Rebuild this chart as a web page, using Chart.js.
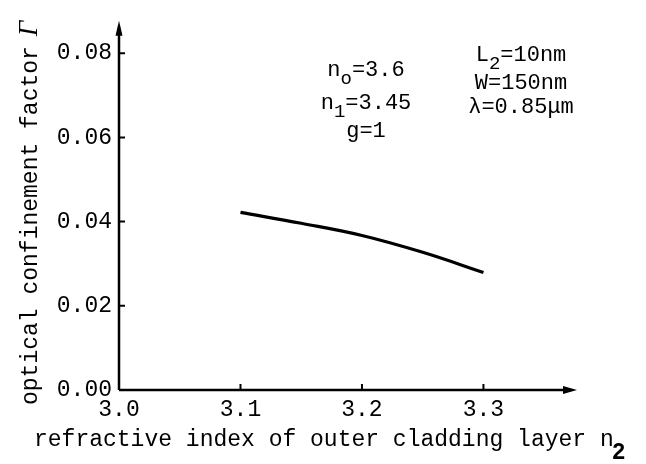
<!DOCTYPE html>
<html>
<head>
<meta charset="utf-8">
<script src="https://cdn.jsdelivr.net/npm/chart.js@4.4.1/dist/chart.umd.min.js"></script>
<style>
  html, body { margin: 0; padding: 0; background: #fff; }
  #wrap { width: 646px; height: 464px; }
</style>
</head>
<body>
<div id="wrap"><canvas id="chart" width="646" height="464"></canvas></div>
<script>
// refractive index of outer cladding layer n2 vs optical confinement factor
const n2Values = [3.10, 3.15, 3.20, 3.25, 3.30];
const gammaValues = [0.0422, 0.0396, 0.0367, 0.0327, 0.0279];

const xTicks = [3.0, 3.1, 3.2, 3.3];
const yTicks = [0.00, 0.02, 0.04, 0.06, 0.08];

const xTitle = 'refractive index of outer cladding layer n';
const xTitleSub = '2';
const yTitle = 'optical confinement factor ';
const yTitleSymbol = 'Γ';

// parameter notes, each line is a list of [text, isSubscript]
const leftNotes = [
  [['n', false], ['o', true], ['=3.6', false]],
  [['n', false], ['1', true], ['=3.45', false]],
  [['g=1', false]]
];
const rightNotes = [
  [['L', false], ['2', true], ['=10nm', false]],
  [['W=150nm', false]],
  [['λ', false], ['=0.85μm', false]]
];

const MONO = '"Liberation Mono", "DejaVu Sans Mono", monospace';
const INK = '#000';

function drawArrow(ctx, x, y, dir) {
  ctx.beginPath();
  if (dir === 'right') {
    ctx.moveTo(x, y);
    ctx.lineTo(x - 14, y - 4);
    ctx.lineTo(x - 14, y + 4);
  } else {
    ctx.moveTo(x, y);
    ctx.lineTo(x - 3.5, y + 15);
    ctx.lineTo(x + 3.5, y + 15);
  }
  ctx.closePath();
  ctx.fill();
}

function drawRich(ctx, parts, x, y, size) {
  // centred line of text with subscripts
  let total = 0;
  parts.forEach(([t, sub]) => {
    ctx.font = (sub ? size - 3 : size) + 'px ' + MONO;
    total += ctx.measureText(t).width;
  });
  let cx = x - total / 2;
  parts.forEach(([t, sub]) => {
    ctx.font = (sub ? size - 3 : size) + 'px ' + MONO;
    ctx.fillText(t, cx, sub ? y + 8 : y);
    cx += ctx.measureText(t).width;
  });
}

const axesPlugin = {
  id: 'axesPlugin',
  afterDraw(chart) {
    const ctx = chart.ctx;
    const xs = chart.scales.x;
    const ys = chart.scales.y;
    const ox = xs.getPixelForValue(xs.min);
    const oy = ys.getPixelForValue(ys.min);
    const area = chart.chartArea;

    ctx.save();
    ctx.strokeStyle = INK;
    ctx.fillStyle = INK;
    ctx.lineWidth = 2.5;
    ctx.lineCap = 'butt';

    // axes
    ctx.beginPath();
    ctx.moveTo(ox, oy);
    ctx.lineTo(area.right - 6, oy);
    ctx.moveTo(ox, oy);
    ctx.lineTo(ox, area.top + 6);
    ctx.stroke();
    drawArrow(ctx, area.right, oy, 'right');
    drawArrow(ctx, ox, area.top, 'up');

    // inward tick marks
    ctx.lineWidth = 2;
    ctx.beginPath();
    xTicks.forEach(v => {
      if (v === xs.min) return;
      const px = xs.getPixelForValue(v);
      ctx.moveTo(px, oy);
      ctx.lineTo(px, oy - 6);
    });
    yTicks.forEach(v => {
      if (v === ys.min) return;
      const py = ys.getPixelForValue(v);
      ctx.moveTo(ox, py);
      ctx.lineTo(ox + 6, py);
    });
    ctx.stroke();

    // x title
    ctx.textBaseline = 'alphabetic';
    ctx.textAlign = 'left';
    ctx.font = '23px ' + MONO;
    ctx.fillText(xTitle, 34, 446);
    const w = ctx.measureText(xTitle).width;
    ctx.font = 'bold 23px ' + MONO;
    ctx.fillText(xTitleSub, 34 + w - 2, 459);

    // y title, rotated
    ctx.save();
    ctx.translate(37, 405);
    ctx.rotate(-Math.PI / 2);
    ctx.font = '23px ' + MONO;
    ctx.fillText(yTitle, 0, 0);
    const yw = ctx.measureText(yTitle).width;
    ctx.font = 'italic 27px "Liberation Serif", serif';
    ctx.fillText(yTitleSymbol, yw - 4, 0);
    ctx.restore();

    // parameter notes
    const leftY = [76, 109, 137];
    leftNotes.forEach((line, i) => drawRich(ctx, line, 366, leftY[i], 22));
    const rightY = [61, 89, 113];
    rightNotes.forEach((line, i) => drawRich(ctx, line, 521, rightY[i], 22));

    ctx.restore();
  }
};

new Chart(document.getElementById('chart'), {
  type: 'scatter',
  data: {
    datasets: [{
      data: n2Values.map((x, i) => ({ x, y: gammaValues[i] })),
      showLine: true,
      borderColor: INK,
      borderWidth: 3.2,
      pointRadius: 0,
      tension: 0.4,
      fill: false
    }]
  },
  options: {
    responsive: false,
    animation: false,
    devicePixelRatio: 1,
    layout: { padding: { left: 0, top: 15, right: 69, bottom: 0 } },
    plugins: {
      legend: { display: false },
      tooltip: { enabled: false }
    },
    scales: {
      x: {
        type: 'linear',
        min: 3.0,
        max: 3.377,
        grid: { display: false, drawTicks: false },
        border: { display: false },
        afterBuildTicks: s => { s.ticks = xTicks.map(v => ({ value: v })); },
        afterFit: s => { s.height = 74; },
        ticks: {
          color: INK,
          padding: 6,
          maxRotation: 0,
          font: { family: MONO, size: 23 },
          callback: v => v.toFixed(1)
        }
      },
      y: {
        type: 'linear',
        min: 0,
        max: 0.0877,
        grid: { display: false, drawTicks: false },
        border: { display: false },
        afterBuildTicks: s => { s.ticks = yTicks.map(v => ({ value: v })); },
        afterFit: s => { s.width = 119; },
        ticks: {
          color: INK,
          padding: 7,
          font: { family: MONO, size: 23 },
          callback: v => v.toFixed(2)
        }
      }
    }
  },
  plugins: [axesPlugin]
});
</script>
</body>
</html>
